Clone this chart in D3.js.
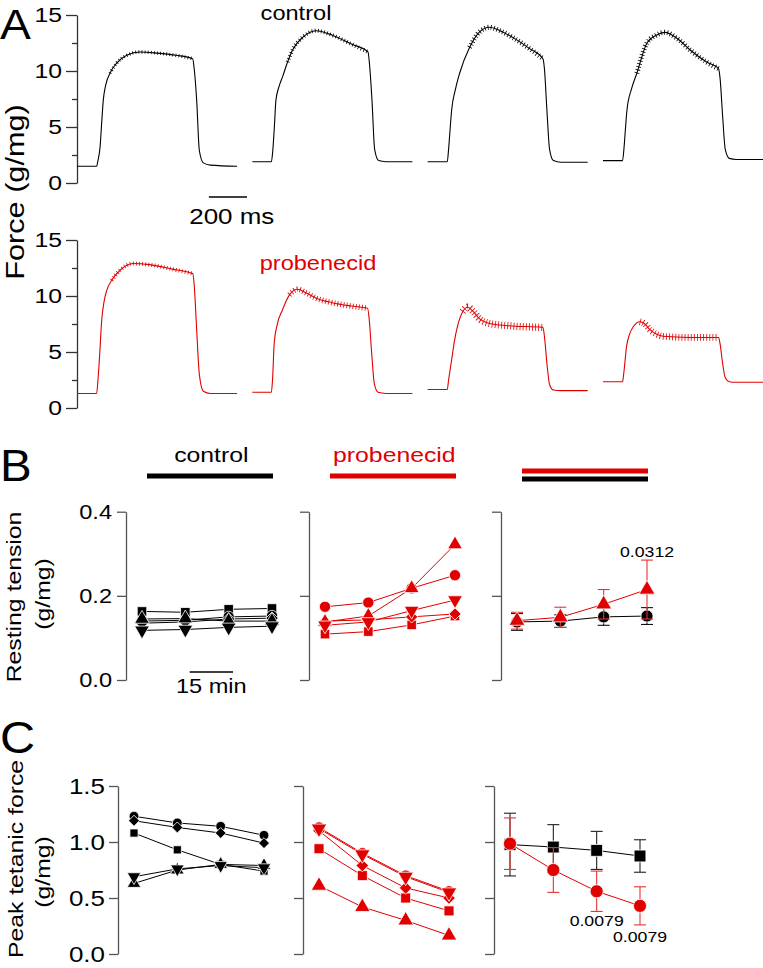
<!DOCTYPE html>
<html>
<head>
<meta charset="utf-8">
<script src="https://cdn.jsdelivr.net/npm/d3@7"></script>
<style>
  body { margin: 0; background: #fff; }
  svg { display: block; font-family: "Liberation Sans", Arial, sans-serif; }
</style>
</head>
<body>
<svg id="fig" width="763" height="968"></svg>
<script>
// ---------- data ----------
// Panel A: force traces, [time (ms) within sweep, force (g/mg)]
var controlSweeps = [
  [[0,1.5],[103,1.5],[110,2.0],[121,3.2],[130,5.5],[138,7.4],[150,8.7],[173,9.8],[208,10.7],[261,11.4],[331,11.7],[420,11.6],[520,11.4],[607,11.1],[615,10.2],[628,7.4],[642,2.9],[663,1.8],[700,1.6],[840,1.5]],
  [[0,1.9],[100,1.9],[107,2.8],[115,4.8],[124,7.4],[140,8.6],[159,9.5],[185,10.8],[212,11.9],[264,13.0],[334,13.6],[420,13.2],[520,12.4],[607,11.7],[615,10.6],[628,7.4],[642,3.0],[663,2.0],[700,1.9],[840,1.9]],
  [[0,1.9],[103,1.9],[110,3.0],[118,4.8],[126,6.5],[145,8.3],[168,9.8],[220,12.1],[273,13.5],[325,13.9],[380,13.6],[446,13.0],[535,12.0],[605,11.1],[613,10.2],[626,6.5],[640,3.0],[660,2.0],[700,1.85],[840,1.85]],
  [[0,2.0],[103,2.0],[110,3.0],[118,4.8],[126,6.5],[150,8.4],[178,9.8],[231,12.5],[280,13.2],[325,13.45],[390,12.9],[456,11.9],[544,10.8],[607,10.2],[615,9.3],[628,6.0],[642,3.0],[663,2.2],[700,2.1],[840,2.1]]
];
var probSweeps = [
  [[0,1.3],[103,1.3],[110,2.5],[118,4.5],[130,7.9],[142,9.5],[156,10.5],[182,11.4],[226,12.3],[294,12.9],[380,12.8],[500,12.4],[607,12.0],[615,11.0],[628,7.0],[642,3.0],[663,1.5],[700,1.3],[840,1.3]],
  [[0,1.4],[100,1.4],[106,2.5],[115,5.8],[130,7.4],[158,8.75],[195,10.1],[237,10.6],[280,10.3],[336,9.8],[420,9.4],[520,9.1],[605,8.9],[613,8.0],[626,5.0],[640,2.2],[660,1.4],[700,1.3],[840,1.3]],
  [[0,1.65],[103,1.65],[110,2.5],[126,4.3],[140,5.9],[157,7.3],[184,8.6],[210,9.0],[240,8.6],[270,8.0],[325,7.55],[420,7.35],[605,7.2],[613,6.4],[626,4.0],[640,2.1],[660,1.6],[700,1.55],[840,1.55]],
  [[0,2.35],[103,2.35],[110,3.2],[124,5.5],[140,6.6],[159,7.26],[194,7.7],[220,7.5],[246,7.0],[280,6.6],[316,6.4],[450,6.3],[607,6.3],[615,5.7],[628,4.0],[642,2.7],[663,2.35],[700,2.3],[840,2.3]]
];
// peak-to-peak size of the tetanic ripple (g/mg)
var controlRipple = [0.3, 0.35, 0.45, 0.45];
var probRipple = [0.35, 0.5, 0.65, 0.6];
var forceTicks = [0, 5, 10, 15];
var forceMinorTicks = [2.5, 7.5, 12.5];

// Panels B and C: four time points (min)
var timePoints = [0, 15, 30, 45];
var muscleSymbols = ["square", "circle", "diamond", "triangle", "triangleDown"];

// resting tension (g/mg), one row per muscle
var restControl = [
  [0.163, 0.161, 0.168, 0.170],
  [0.140, 0.142, 0.150, 0.152],
  [0.135, 0.138, 0.145, 0.147],
  [0.145, 0.146, 0.140, 0.140],
  [0.118, 0.120, 0.125, 0.128]
];
var restProb = [
  [0.109, 0.115, 0.131, 0.152],
  [0.174, 0.184, 0.218, 0.249],
  [0.140, 0.143, 0.150, 0.157],
  [0.138, 0.152, 0.218, 0.322],
  [0.130, 0.138, 0.165, 0.190]
];
var restControlMean = [0.138, 0.140, 0.150, 0.152];
var restControlSem = [0.020, 0.015, 0.020, 0.020];
var restProbMean = [0.141, 0.149, 0.180, 0.215];
var restProbSem = [0.020, 0.024, 0.035, 0.070];
var restTicks = [0, 0.2, 0.4];

// peak tetanic force (g/mg)
var peakControl = [
  [1.08, 0.93, 0.80, 0.74],
  [1.23, 1.17, 1.14, 1.06],
  [1.19, 1.13, 1.08, 0.99],
  [0.63, 0.75, 0.80, 0.79],
  [0.69, 0.76, 0.79, 0.77]
];
var peakProb = [
  [0.94, 0.70, 0.50, 0.385],
  [1.13, 0.90, 0.70, 0.56],
  [1.10, 0.79, 0.59, 0.50],
  [0.61, 0.42, 0.30, 0.165],
  [1.12, 0.89, 0.69, 0.55]
];
var peakControlMean = [0.977, 0.955, 0.925, 0.875];
var peakControlSem = [0.28, 0.20, 0.17, 0.145];
var peakProbMean = [0.985, 0.75, 0.56, 0.43];
var peakProbSem = [0.23, 0.20, 0.18, 0.17];
var peakTicks = [0, 0.5, 1.0, 1.5];

// ---------- drawing ----------
var svg = d3.select("#fig");
var RED = "#e00000";
var SX = 1.18;         // the figure's lettering is slightly wide
var sweepGap = 920;    // ms between sweep starts on the page

function label(str, x, y, size, o) {
  o = o || {};
  return svg.append("text")
    .attr("transform", "translate(" + x + "," + y + ")" + (o.rot ? " rotate(" + o.rot + ")" : "") + " scale(" + (o.sx || SX) + ",1)")
    .attr("text-anchor", o.anchor || "start")
    .attr("font-size", size)
    .attr("fill", o.fill || "#000")
    .text(str);
}

function styleAxis(g, color, size) {
  g.attr("font-family", null).attr("font-size", null);
  g.selectAll(".domain, .tick line").attr("stroke", color).attr("stroke-width", 1.3);
  g.selectAll(".tick text").attr("fill", "#000").attr("font-size", size).each(function() {
    var t = d3.select(this), x = +t.attr("x");
    t.attr("x", 0).attr("transform", "translate(" + x + ",0) scale(" + SX + ",1)");
  });
}

// ----- panel A -----
var tA = d3.scaleLinear().domain([0, 840 + 3 * sweepGap]).range([77, 763]);
var yTop = d3.scaleLinear().domain([0, 15]).range([183, 15]);
var yBot = d3.scaleLinear().domain([0, 15]).range([408, 240]);

function forceAxis(y) {
  var g = svg.append("g").attr("transform", "translate(77,0)");
  g.call(d3.axisLeft(y).tickValues(forceTicks).tickSize(11).tickSizeOuter(0).tickPadding(4));
  g.append("g").call(d3.axisLeft(y).tickValues(forceMinorTicks).tickSize(5).tickSizeOuter(0).tickFormat(""));
  styleAxis(g, "#333", 21);
  g.selectAll(".domain").filter(function(d, i) { return i > 0; }).remove();
}

function drawTraces(sweeps, ripple, y, color) {
  sweeps.forEach(function(pts, i) {
    var off = i * sweepGap;
    var line = d3.line()
      .x(function(d) { return tA(d[0] + off); })
      .y(function(d) { return y(d[1]); })
      .curve(d3.curveMonotoneX);
    svg.append("path").attr("d", line(pts))
      .attr("fill", "none").attr("stroke", color).attr("stroke-width", 1.1);
    // ripple of the unfused tetanus, drawn as a fine comb along the plateau
    var a = pts.findIndex(function(d) { return d[0] >= 170; });
    var b = pts.findIndex(function(d) { return d[0] >= 600; });
    svg.append("path").attr("d", line(pts.slice(a, b + 1)))
      .attr("fill", "none").attr("stroke", color)
      .attr("stroke-width", Math.abs(y(ripple[i]) - y(0)))
      .attr("stroke-dasharray", "0.8,2.3");
  });
}

forceAxis(yTop);
forceAxis(yBot);
drawTraces(controlSweeps, controlRipple, yTop, "#000");
drawTraces(probSweeps, probRipple, yBot, RED);

label("A", 0, 39, 42, {sx: 1.1});
label("control", 296, 20, 20, {anchor: "middle"});
label("probenecid", 318, 270, 20, {anchor: "middle", fill: RED});
label("Force (g/mg)", 24, 192, 26, {anchor: "middle", rot: -90});

svg.append("line")
  .attr("x1", tA(692)).attr("x2", tA(892)).attr("y1", 197).attr("y2", 197)
  .attr("stroke", "#000").attr("stroke-width", 1.5);
label("200 ms", tA(812), 224, 22, {anchor: "middle"});

// ----- panels B and C -----
var symbolTypes = {
  circle: d3.symbolCircle, square: d3.symbolSquare, diamond: d3.symbolSquare,
  triangle: d3.symbolTriangle, triangleDown: d3.symbolTriangle
};
var symbolRot = { circle: 0, square: 0, diamond: 45, triangle: 0, triangleDown: 180 };

function xPanel(x0) {
  return d3.scaleLinear().domain([0, 45]).range([x0 + 16, x0 + 146]);
}

function panelAxis(x0, y, ticks, withLabels, fontSize, pad) {
  var ax = d3.axisLeft(y).tickValues(ticks).tickSize(9).tickSizeOuter(0).tickPadding(pad);
  ax.tickFormat(withLabels ? d3.format(".1f") : "");
  var g = svg.append("g").attr("transform", "translate(" + x0 + ",0)").call(ax);
  styleAxis(g, "#555", fontSize);
}

function marker(type, x, y, size, color) {
  svg.append("path")
    .attr("d", d3.symbol().type(symbolTypes[type]).size(size)())
    .attr("transform", "translate(" + x + "," + y + ") rotate(" + symbolRot[type] + ")")
    .attr("fill", color).attr("stroke", "#fff").attr("stroke-width", 0.8);
}

function muscles(x0, y, rows, color, sizes) {
  var x = xPanel(x0);
  var line = d3.line().x(function(d, i) { return x(timePoints[i]); }).y(function(d) { return y(d); });
  rows.forEach(function(r) {
    svg.append("path").attr("d", line(r)).attr("fill", "none")
      .attr("stroke", color).attr("stroke-width", 1);
  });
  rows.forEach(function(r, k) {
    var s = muscleSymbols[k];
    r.forEach(function(v, i) { marker(s, x(timePoints[i]), y(v), sizes[s], color); });
  });
}

function meanSeries(x0, y, mean, sem, color, barColor, type, size) {
  var x = xPanel(x0);
  var line = d3.line().x(function(d, i) { return x(timePoints[i]); }).y(function(d) { return y(d); });
  svg.append("path").attr("d", line(mean)).attr("fill", "none")
    .attr("stroke", color).attr("stroke-width", 1);
  mean.forEach(function(m, i) {
    var cx = x(timePoints[i]);
    var g = svg.append("g").attr("stroke", barColor).attr("stroke-width", 1.1);
    g.append("line").attr("x1", cx).attr("x2", cx).attr("y1", y(m - sem[i])).attr("y2", y(m + sem[i]));
    [m - sem[i], m + sem[i]].forEach(function(v) {
      g.append("line").attr("x1", cx - 6).attr("x2", cx + 6).attr("y1", y(v)).attr("y2", y(v));
    });
  });
  mean.forEach(function(m, i) { marker(type, x(timePoints[i]), y(m), size, color); });
}

// B
var yRest = d3.scaleLinear().domain([0, 0.4]).range([680, 511.7]);
var bX = [126, 309, 501];
panelAxis(bX[0], yRest, restTicks, true, 20, 5);
panelAxis(bX[1], yRest, restTicks, false, 20, 5);
panelAxis(bX[2], yRest, restTicks, false, 20, 5);

var sizesB = { circle: 100, square: 90, diamond: 75, triangle: 95, triangleDown: 95 };
muscles(bX[0], yRest, restControl, "#000", sizesB);
muscles(bX[1], yRest, restProb, RED, sizesB);
meanSeries(bX[2], yRest, restControlMean, restControlSem, "#000", "#111", "circle", 115);
meanSeries(bX[2], yRest, restProbMean, restProbSem, RED, "#e63333", "triangle", 110);

// condition bars over B
function condBar(x0, y, color) {
  var x = xPanel(x0);
  svg.append("line").attr("x1", x(0) + 5).attr("x2", x(45) + 1)
    .attr("y1", y).attr("y2", y).attr("stroke", color).attr("stroke-width", 5);
}
condBar(bX[0], 476, "#000");
condBar(bX[1], 476, RED);
condBar(bX[2], 471, RED);
condBar(bX[2], 479, "#000");
label("control", xPanel(bX[0])(24), 462, 21, {anchor: "middle"});
label("probenecid", xPanel(bX[1])(24), 462, 21, {anchor: "middle", fill: RED});

label("B", 0, 481, 44, {sx: 1.08});
label("Resting tension", 21, 597, 21, {anchor: "middle", rot: -90});
label("(g/mg)", 50, 594, 21, {anchor: "middle", rot: -90});

var xb = xPanel(bX[0]);
svg.append("line").attr("x1", xb(16.5)).attr("x2", xb(31.5)).attr("y1", 672).attr("y2", 672)
  .attr("stroke", "#000").attr("stroke-width", 1.3);
label("15 min", xb(24), 693, 20, {anchor: "middle"});
label("0.0312", xPanel(bX[2])(45), yRest(restProbMean[3] + restProbSem[3]) - 3, 15, {anchor: "middle"});

// C
var yPeak = d3.scaleLinear().domain([0, 1.5]).range([954, 786]);
var cX = [118, 303, 494];
panelAxis(cX[0], yPeak, peakTicks, true, 22, 4);
panelAxis(cX[1], yPeak, peakTicks, false, 22, 4);
panelAxis(cX[2], yPeak, peakTicks, false, 22, 4);

muscles(cX[0], yPeak, peakControl, "#000", { circle: 75, square: 66, diamond: 60, triangle: 80, triangleDown: 80 });
muscles(cX[1], yPeak, peakProb, RED, { circle: 100, square: 100, diamond: 80, triangle: 105, triangleDown: 105 });
meanSeries(cX[2], yPeak, peakControlMean, peakControlSem, "#000", "#222", "square", 140);
meanSeries(cX[2], yPeak, peakProbMean, peakProbSem, RED, "#e63333", "circle", 135);

var xc = xPanel(cX[2]);
label("0.0079", xc(30), yPeak(peakProbMean[2] - peakProbSem[2]) + 15, 15, {anchor: "middle"});
label("0.0079", xc(45), yPeak(peakProbMean[3] - peakProbSem[3]) + 17, 15, {anchor: "middle"});

label("C", 0, 753, 45, {sx: 1.08});
label("Peak tetanic force", 23, 859, 21, {anchor: "middle", rot: -90});
label("(g/mg)", 50, 872, 21, {anchor: "middle", rot: -90});
</script>
</body>
</html>
